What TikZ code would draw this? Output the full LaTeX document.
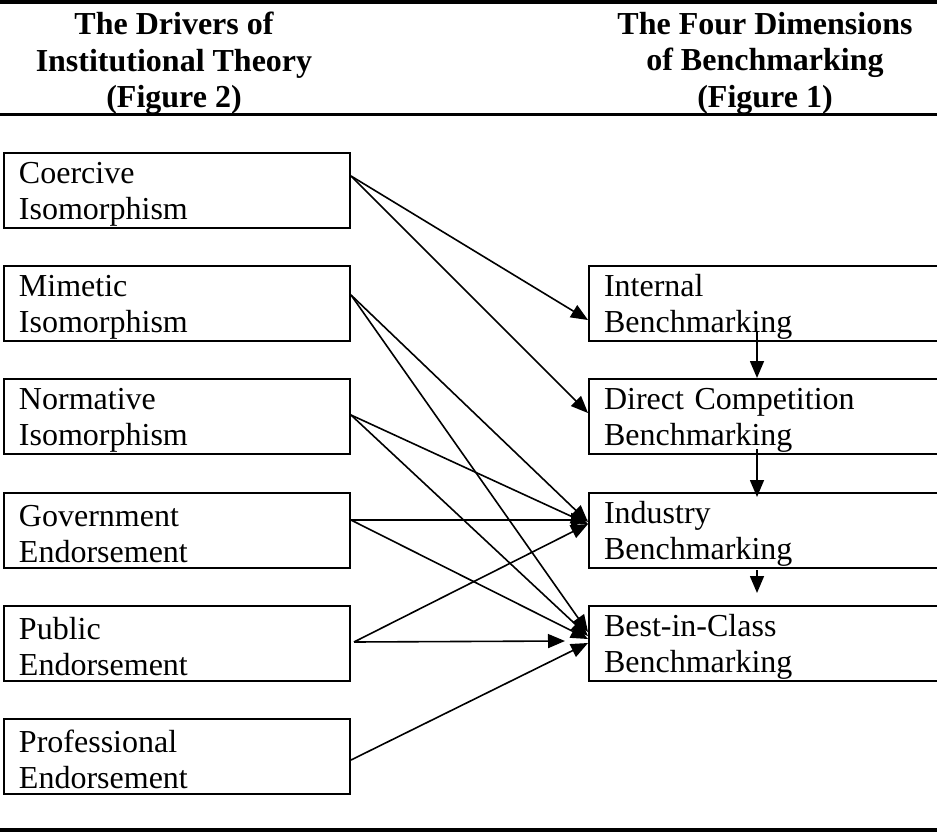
\documentclass[tikz,border=0pt]{standalone}
\usepackage{fontspec}
\setmainfont{Liberation Serif}
\usetikzlibrary{arrows.meta,calc}
\begin{document}
\begin{tikzpicture}[x=1pt,y=-1pt,
  box/.style={draw, line width=2pt, anchor=north west, align=left,
    inner xsep=15pt, inner ysep=0pt, minimum height=75pt,
    font=\fontsize{32}{36}\selectfont,
    execute at begin node={\rule{0pt}{28pt}}},
  lbox/.style={box, text width=316pt},
  rbox/.style={box, text width=322pt},
  conn/.style={line width=1.6pt, -{Triangle[length=17pt,width=14pt]}},
  head/.style={font=\fontsize{32}{36.5}\selectfont\bfseries, align=center,
    anchor=north, inner sep=0pt},
  rulestyle/.style={line width=3.5pt}]
\useasboundingbox (0,0) rectangle (937,832);

% rules
\coordinate (r1a) at (0,2);   \coordinate (r1b) at (937,2);
\coordinate (r2a) at (0,115); \coordinate (r2b) at (937,115);
\coordinate (r3a) at (0,830); \coordinate (r3b) at (937,830);
\draw[rulestyle] (r1a) -- (r1b);
\draw[rulestyle,line width=3pt] (r2a) -- (r2b);
\draw[rulestyle] (r3a) -- (r3b);

% headings
\node[head] (hl) at (174,12) {The Drivers of\\Institutional Theory\\(Figure 2)};
\node[head] (hr) at (765,12) {The Four Dimensions\\of Benchmarking\\(Figure 1)};

% left boxes
\node[lbox] (co) at (3,152) {Coercive\\Isomorphism};
\node[lbox] (mi) at (3,265) {Mimetic\\Isomorphism};
\node[lbox] (no) at (3,378) {Normative\\Isomorphism};
\node[lbox] (go) at (3,492) {Government\\Endorsement};
\node[lbox] (pu) at (3,605) {Public\\Endorsement};
\node[lbox] (pr) at (3,718) {Professional\\Endorsement};

% right boxes
\node[rbox] (in) at (588,265) {Internal\\Benchmarking};
\node[rbox] (dc) at (588,378) {Direct Competition\\Benchmarking};
\node[rbox] (id) at (588,492) {Industry\\Benchmarking};
\node[rbox] (be) at (588,605) {Best-in-Class\\Benchmarking};

% connectors from left
\draw[conn] ($(co.north east)+(0,24)$) -- ($(in.north west)+(0,55)$);
\draw[conn] ($(co.north east)+(0,24)$) -- ($(dc.north west)+(0,35)$);
\draw[conn] ($(mi.north east)+(0,30)$) -- ($(id.north west)+(0,30)$);
\draw[conn] ($(mi.north east)+(0,30)$) -- ($(be.north west)+(0,27)$);
\draw[conn] ($(no.north east)+(0,37)$) -- ($(id.north west)+(0,32)$);
\draw[conn] ($(no.north east)+(0,37)$) -- ($(be.north west)+(0,31)$);
\draw[conn] ($(go.north east)+(0,28)$) -- ($(id.north west)+(0,28)$);
\draw[conn] ($(go.north east)+(0,28)$) -- ($(be.north west)+(0,34)$);
\draw[conn] ($(pu.north east)+(3,37)$) -- ($(id.north west)+(0,32)$);
\draw[conn] ($(pu.north east)+(3,37)$) -- ($(be.north west)+(-23,36)$);
\draw[conn] ($(pr.north east)+(0,42)$) -- ($(be.north west)+(0,38)$);

% vertical connectors
\draw[conn] ($(in.north west)+(169,66)$) -- ($(dc.north west)+(169,0)$);
\draw[conn] ($(dc.north west)+(169,71)$) -- ($(id.north west)+(169,5)$);
\draw[conn] ($(id.north west)+(169,78)$) -- ($(be.north west)+(169,-12)$);
\end{tikzpicture}
\end{document}
